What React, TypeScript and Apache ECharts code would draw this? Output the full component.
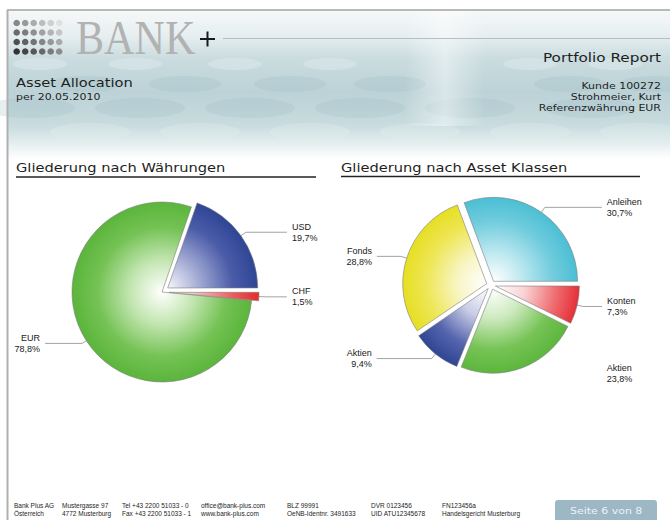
import React, { useEffect, useRef } from 'react';
import * as echarts from 'echarts';

// ---- data ----
const currencyNames = ['USD', 'CHF', 'EUR'];
const currencyValues = [19.7, 1.5, 78.8];
const assetNames = ['Anleihen', 'Konten', 'Aktien', 'Aktien', 'Fonds'];
const assetValues = [30.7, 7.3, 23.8, 9.4, 28.8];

const currencyStops = [
  ['#f6f6fb', '#a3abd4', '#4b5ca9', '#2e4595'],
  ['#ffffff', '#f6b0b0', '#ee5a5a', '#e32c2c'],
  ['#ffffff', '#c4e6b2', '#74c254', '#5bb53b'],
];
const assetStops = [
  ['#ffffff', '#bce8f0', '#70ccdd', '#4bbfd4'],
  ['#ffffff', '#f9d3d5', '#ef6e72', '#e52f36'],
  ['#ffffff', '#cdeabf', '#76c355', '#5cb63d'],
  ['#ffffff', '#c9cde6', '#5565ad', '#2f4594'],
  ['#ffffff', '#f8f5c4', '#eee655', '#e6df22'],
];
// label leader line lengths (second segment) per slice
const currencyLen2 = [41, 22, 37];
const assetLen2 = [57, 19, 77, 55, 24];

const footerCols = [
  ['Bank Plus AG', 'Österreich'],
  ['Mustergasse 97', '4772 Musterburg'],
  ['Tel +43 2200 51033 - 0', 'Fax +43 2200 51033 - 1'],
  ['office@bank-plus.com', 'www.bank-plus.com'],
  ['BLZ 99991', 'OeNB-Identnr. 3491633'],
  ['DVR 0123456', 'UID ATU12345678'],
  ['FN123456a', 'Handelsgericht Musterburg'],
];
const footerX = [14, 62, 122, 201, 287, 371, 442];

const EURO = "'DejaVu Sans', sans-serif";
const ARIAL = "'Liberation Sans', Arial, sans-serif";

function radial(cx: number, cy: number, r: number, stops: string[]) {
  return {
    type: 'radial',
    x: cx,
    y: cy,
    r,
    global: true,
    colorStops: [
      { offset: 0, color: stops[0] },
      { offset: 0.35, color: stops[1] },
      { offset: 0.72, color: stops[2] },
      { offset: 1, color: stops[3] },
    ],
  };
}

function txt(
  x: number,
  y: number,
  text: string,
  size: number,
  align: string,
  fill = '#1e1e1e',
  family = EURO,
  scaleX = 1.22,
  extra: any = {}
) {
  return {
    type: 'text',
    x,
    y,
    scaleX,
    silent: true,
    style: {
      text,
      fill,
      fontSize: size,
      fontFamily: family,
      align,
      textAlign: align,
      verticalAlign: 'middle',
      textVerticalAlign: 'middle',
      ...extra,
    },
  };
}

const fmtLabel = (p: any) => `${p.name}\n${p.value.toFixed(1).replace('.', ',')}%`;

const L_CX = 162, L_CY = 292, L_R = 90;
const R_CX = 491, R_CY = 285, R_R = 84;

function buildGraphic() {
  const g: any[] = [];
  // header background
  g.push({
    type: 'rect',
    shape: { x: 8, y: 11, width: 662, height: 148 },
    style: {
      fill: new echarts.graphic.LinearGradient(0, 0, 0, 1, [
        { offset: 0, color: '#f5f8f9' },
        { offset: 0.17, color: '#e6eef0' },
        { offset: 0.32, color: '#cadcdf' },
        { offset: 0.55, color: '#bcd2d7' },
        { offset: 0.78, color: '#c9dcdf' },
        { offset: 0.9, color: '#e6eff0' },
        { offset: 1, color: '#ffffff' },
      ]),
    },
    silent: true,
  });
  // bubbles
  const bubbleRows = [
    { y: 64, ry: 6, xs: [40, 135, 235, 330, 530, 615], fill: 'rgba(232,242,244,0.35)' },
    { y: 84, ry: 8, xs: [85, 185, 290, 390, 570, 655], fill: 'rgba(155,189,196,0.25)' },
    { y: 108, ry: 10, xs: [30, 140, 250, 360, 470, 590], fill: 'rgba(155,189,196,0.25)' },
    { y: 132, ry: 9, xs: [90, 200, 310, 420, 530, 640], fill: 'rgba(225,237,239,0.35)' },
  ];
  bubbleRows.forEach((row) => {
    row.xs.forEach((x) => {
      g.push({
        type: 'ellipse',
        shape: { cx: x, cy: row.y, rx: row.ry * 4.5, ry: row.ry },
        style: { fill: row.fill },
        silent: true,
      });
    });
  });
  // light streak
  g.push({
    type: 'rect',
    shape: { x: 405, y: 11, width: 80, height: 115 },
    style: {
      fill: new echarts.graphic.LinearGradient(0, 0, 1, 0, [
        { offset: 0, color: 'rgba(255,255,255,0)' },
        { offset: 0.5, color: 'rgba(255,255,255,0.45)' },
        { offset: 1, color: 'rgba(255,255,255,0)' },
      ]),
    },
    silent: true,
  });
  // frame
  g.push({ type: 'line', shape: { x1: 7, y1: 10, x2: 670, y2: 10 }, style: { stroke: '#a2a2a2', lineWidth: 1.6 }, silent: true });
  g.push({ type: 'line', shape: { x1: 7.5, y1: 10, x2: 7.5, y2: 520 }, style: { stroke: '#b0b0b0', lineWidth: 2 }, silent: true });
  // logo dots
  for (let r = 0; r < 4; r++) {
    for (let c = 0; c < 6; c++) {
      const v = Math.min(0xe0, 0x33 + c * 0x12 + (3 - r) * 0x1c);
      const hex = v.toString(16).padStart(2, '0');
      g.push({
        type: 'circle',
        shape: { cx: 16.7 + c * 8.5, cy: 23 + r * 9.5, r: 3.3 },
        style: { fill: `#${hex}${hex}${hex}` },
        silent: true,
      });
    }
  }
  // BANK
  g.push(txt(76, 37, 'BANK', 49, 'left', '#b2b2b2', "'Liberation Serif', 'Times New Roman', serif", 0.86));
  // plus
  g.push({ type: 'line', shape: { x1: 200, y1: 39, x2: 215, y2: 39 }, style: { stroke: '#1a1a1a', lineWidth: 2 }, silent: true });
  g.push({ type: 'line', shape: { x1: 207.5, y1: 31.5, x2: 207.5, y2: 46.5 }, style: { stroke: '#1a1a1a', lineWidth: 2 }, silent: true });
  g.push({ type: 'line', shape: { x1: 223, y1: 38.5, x2: 670, y2: 38.5 }, style: { stroke: '#a7b3b6', lineWidth: 0.8 }, silent: true });
  // header texts
  g.push(txt(16, 83, 'Asset Allocation', 12, 'left'));
  g.push(txt(16, 97, 'per 20.05.2010', 9, 'left'));
  g.push(txt(661, 58, 'Portfolio Report', 12.5, 'right'));
  g.push(txt(661, 86, 'Kunde 100272', 9, 'right'));
  g.push(txt(661, 97, 'Strohmeier, Kurt', 9, 'right'));
  g.push(txt(661, 108, 'Referenzwährung EUR', 9, 'right'));
  // section titles
  g.push(txt(16, 168, 'Gliederung nach Währungen', 12, 'left'));
  g.push({ type: 'line', shape: { x1: 16, y1: 177, x2: 316, y2: 177 }, style: { stroke: '#222', lineWidth: 1.4 }, silent: true });
  g.push(txt(341, 168, 'Gliederung nach Asset Klassen', 12, 'left'));
  g.push({ type: 'line', shape: { x1: 341, y1: 176.5, x2: 640, y2: 176.5 }, style: { stroke: '#222', lineWidth: 1.4 }, silent: true });
  // footer
  footerCols.forEach((col, i) => {
    g.push(txt(footerX[i], 509.5, col.join('\n'), 6.5, 'left', '#1e1e1e', ARIAL, 1, { lineHeight: 8 }));
  });
  g.push({
    type: 'rect',
    shape: { x: 555, y: 500, width: 102, height: 24, r: 3 },
    style: { fill: '#9db7c4' },
    silent: true,
  });
  g.push(txt(606 - 36, 511, 'Seite 6 von 8', 9, 'left', '#eef4f7'));
  return g;
}

const labelBase = {
  show: true,
  position: 'outside',
  alignTo: 'none',
  bleedMargin: 0,
  overflow: 'none',
  distanceToLabelLine: 5,
  color: '#1a1a1a',
  fontSize: 9,
  lineHeight: 11,
  fontFamily: ARIAL,
  formatter: fmtLabel,
};
const lineStyle = { color: '#8c8c8c', width: 0.8 };
const borderStyle = { borderColor: '#7d7d7d', borderWidth: 0.6 };

const option: any = {
  animation: false,
  backgroundColor: '#ffffff',
  graphic: { elements: buildGraphic() },
  series: [
    {
      type: 'pie',
      left: 0,
      top: 0,
      width: 670,
      height: 520,
      center: [L_CX, L_CY],
      radius: L_R,
      startAngle: currencyValues[0] * 3.6,
      clockwise: true,
      avoidLabelOverlap: false,
      selectedMode: 'multiple',
      selectedOffset: 7,
      label: labelBase,
      labelLine: { show: true, length: 6, length2: 22, lineStyle },
      itemStyle: borderStyle,
      select: { itemStyle: borderStyle },
      emphasis: { scale: false },
      data: currencyNames.map((name, i) => ({
        name,
        value: currencyValues[i],
        selected: name !== 'EUR',
        itemStyle: { color: radial(L_CX, L_CY, L_R, currencyStops[i]) },
        labelLine: { length: name === 'EUR' ? 5 : 6, length2: currencyLen2[i] },
      })),
    },
    {
      type: 'pie',
      left: 0,
      top: 0,
      width: 670,
      height: 520,
      center: [R_CX, R_CY],
      radius: R_R,
      startAngle: assetValues[0] * 3.6,
      clockwise: true,
      avoidLabelOverlap: false,
      selectedMode: 'multiple',
      selectedOffset: 4.5,
      label: labelBase,
      labelLine: { show: true, length: 6, length2: 15, lineStyle },
      itemStyle: borderStyle,
      select: { itemStyle: borderStyle },
      emphasis: { scale: false },
      data: assetNames.map((name, i) => ({
        name,
        value: assetValues[i],
        selected: true,
        itemStyle: { color: radial(R_CX, R_CY, R_R, assetStops[i]) },
        labelLine: { show: i !== 2, length: 6, length2: assetLen2[i] },
      })),
    },
  ],
};

export default function App() {
  const ref = useRef<HTMLDivElement>(null);
  useEffect(() => {
    if (!ref.current) return;
    const chart = echarts.init(ref.current, null, { renderer: 'svg' });
    chart.setOption(option);
    return () => chart.dispose();
  }, []);
  return (
    <div
      ref={ref}
      style={{ position: 'fixed', left: 0, top: 0, width: 670, height: 520, background: '#fff' }}
    />
  );
}
